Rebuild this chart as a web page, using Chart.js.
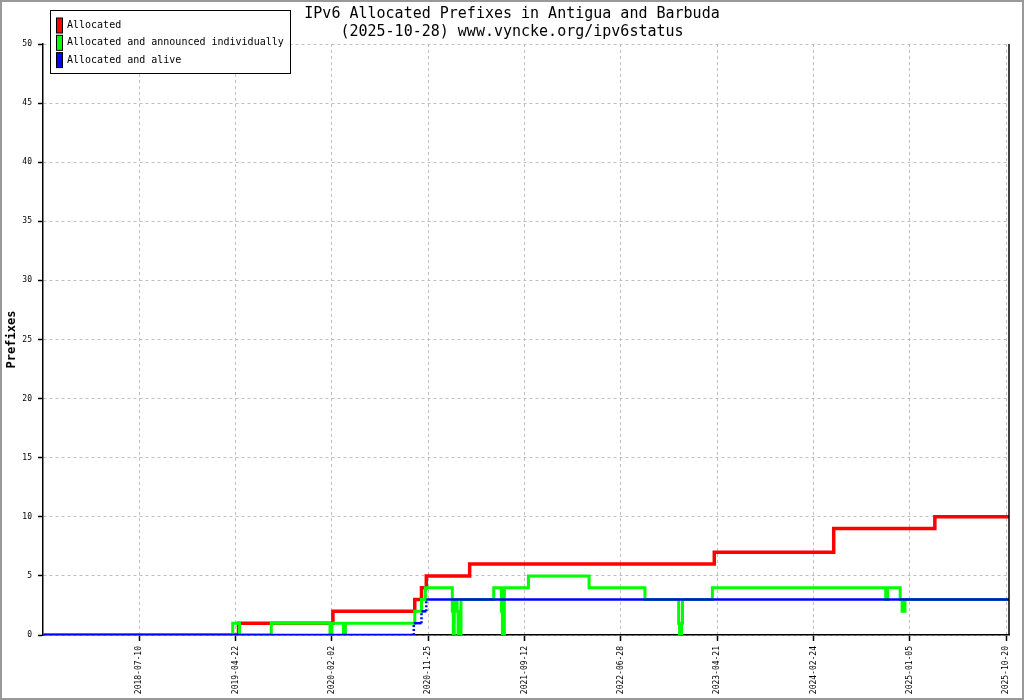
<!DOCTYPE html>
<html>
<head>
<meta charset="utf-8">
<title>IPv6 Allocated Prefixes in Antigua and Barbuda</title>
<script src="https://cdn.jsdelivr.net/npm/chart.js@4/dist/chart.umd.min.js"></script>
<style>
  html, body { margin: 0; padding: 0; background: #fff; }
  canvas { display: block; }
</style>
</head>
<body>
<canvas id="myChart" width="1024" height="700"></canvas>
<script>
// x is the sample position along the axis, one tick label every 100 units
const tickPos = [100, 200, 300, 400, 500, 600, 700, 800, 900, 1000];
const tickLabels = ['2018-07-10', '2019-04-22', '2020-02-02', '2020-11-25', '2021-09-12',
                    '2022-06-28', '2023-04-21', '2024-02-24', '2025-01-05', '2025-10-20'];
const xEnd = 1003;

// change points [x, value]: the value holds until the next change
const allocated = [[0, 0], [203, 1], [301, 2], [386, 3], [393, 4], [398, 5], [443, 6],
                   [697, 7], [821, 9], [926, 10]];
const announced = [[0, 0], [197, 1], [204, 0], [237, 1], [298, 0], [300, 1], [312, 0], [314, 1],
                   [386, 2], [393, 3], [397, 4], [425, 2], [426, 0], [427, 3], [430, 2], [431, 0],
                   [434, 3], [468, 4], [476, 2], [477, 0], [479, 4], [504, 5], [567, 4], [625, 3],
                   [660, 1], [661, 0], [663, 1], [664, 3], [695, 4], [875, 3], [877, 4],
                   [890, 3], [892, 2], [895, 3]];
const alive = [[0, 0], [385, 1], [393, 2], [398, 3]];

const FONT = "'DejaVu Sans Mono', monospace";

// turn change points into vertical/horizontal line points
function steps(changes) {
  const pts = [];
  changes.forEach(([x, v], i) => {
    if (i > 0) pts.push({ x: x, y: changes[i - 1][1] });
    pts.push({ x: x, y: v });
  });
  pts.push({ x: xEnd, y: changes[changes.length - 1][1] });
  return pts;
}

const frame = {
  id: 'frame',
  beforeDraw(chart) {
    const c = chart.ctx;
    c.save();
    c.fillStyle = '#fff';
    c.fillRect(0, 0, chart.width, chart.height);
    c.restore();
  },
  afterDraw(chart) {
    const c = chart.ctx;
    const a = chart.chartArea;
    c.save();
    // right axis line
    c.strokeStyle = '#000';
    c.lineWidth = 1.5;
    c.beginPath();
    c.moveTo(a.right, a.top);
    c.lineTo(a.right, a.bottom);
    c.stroke();

    // title
    c.fillStyle = '#000';
    c.font = '15px ' + FONT;
    c.textAlign = 'center';
    c.textBaseline = 'middle';
    c.fillText('IPv6 Allocated Prefixes in Antigua and Barbuda', 512, 14);
    c.fillText('(2025-10-28) www.vyncke.org/ipv6status', 512, 32);

    // legend box
    c.fillStyle = '#fff';
    c.fillRect(50.5, 10.5, 240, 63);
    c.strokeStyle = '#000';
    c.lineWidth = 1;
    c.strokeRect(50.5, 10.5, 240, 63);
    c.font = '10px ' + FONT;
    c.textAlign = 'left';
    chart.data.datasets.forEach((ds, i) => {
      const y = 25.5 + i * 17.3;
      c.fillStyle = ds.borderColor;
      c.fillRect(56.5, y - 7.5, 6, 15);
      c.strokeRect(56.5, y - 7.5, 6, 15);
      c.fillStyle = '#000';
      c.fillText(ds.label, 67, y);
    });

    // outer frame
    c.strokeStyle = '#999';
    c.lineWidth = 2;
    c.strokeRect(1, 1, chart.width - 2, chart.height - 2);
    c.restore();
  }
};

const ctx = document.getElementById('myChart').getContext('2d');
const myChart = new Chart(ctx, {
  type: 'line',
  data: {
    datasets: [
      { label: 'Allocated', data: steps(allocated), borderColor: '#ff0000', borderWidth: 3.5, order: 3 },
      { label: 'Allocated and announced individually', data: steps(announced), borderColor: '#00ff00', borderWidth: 3, order: 2 },
      { label: 'Allocated and alive', data: steps(alive), borderColor: '#0000ff', borderWidth: 2.5, order: 1,
        segment: { borderDash: (s) => s.p0.parsed.x === s.p1.parsed.x ? [2, 2] : undefined } }
    ]
  },
  options: {
    responsive: false,
    animation: false,
    layout: { padding: { top: 44, right: 15, bottom: 0, left: 0 } },
    elements: { point: { radius: 0 }, line: { tension: 0, fill: false } },
    plugins: {
      legend: { display: false },
      title: { display: false },
      tooltip: { enabled: false }
    },
    scales: {
      x: {
        type: 'linear',
        min: 0,
        max: xEnd,
        afterBuildTicks: (s) => { s.ticks = tickPos.map(v => ({ value: v })); },
        afterFit: (s) => { s.height = 65; },
        ticks: {
          autoSkip: false,
          minRotation: 90,
          maxRotation: 90,
          padding: 5,
          color: '#000',
          font: { family: FONT, size: 8 },
          callback: (v) => tickLabels[tickPos.indexOf(v)]
        },
        grid: { color: '#c0c0c0', lineWidth: 1, tickColor: '#000', tickLength: 6, tickWidth: 1.5, tickBorderDash: [] },
        border: { color: '#000', width: 1.5, dash: [3, 3] }
      },
      y: {
        min: 0,
        max: 50,
        afterFit: (s) => { s.width = 43; },
        ticks: {
          stepSize: 5,
          padding: 6,
          color: '#000',
          font: { family: FONT, size: 8 }
        },
        title: {
          display: true,
          text: 'Prefixes',
          color: '#000',
          padding: { top: 5, bottom: 0 },
          font: { family: FONT, size: 12, weight: 'bold' }
        },
        grid: { color: '#c0c0c0', lineWidth: 1, tickColor: '#000', tickLength: 5, tickWidth: 1.5, tickBorderDash: [] },
        border: { color: '#000', width: 1.5, dash: [3, 3] }
      }
    }
  },
  plugins: [frame]
});
</script>
</body>
</html>
